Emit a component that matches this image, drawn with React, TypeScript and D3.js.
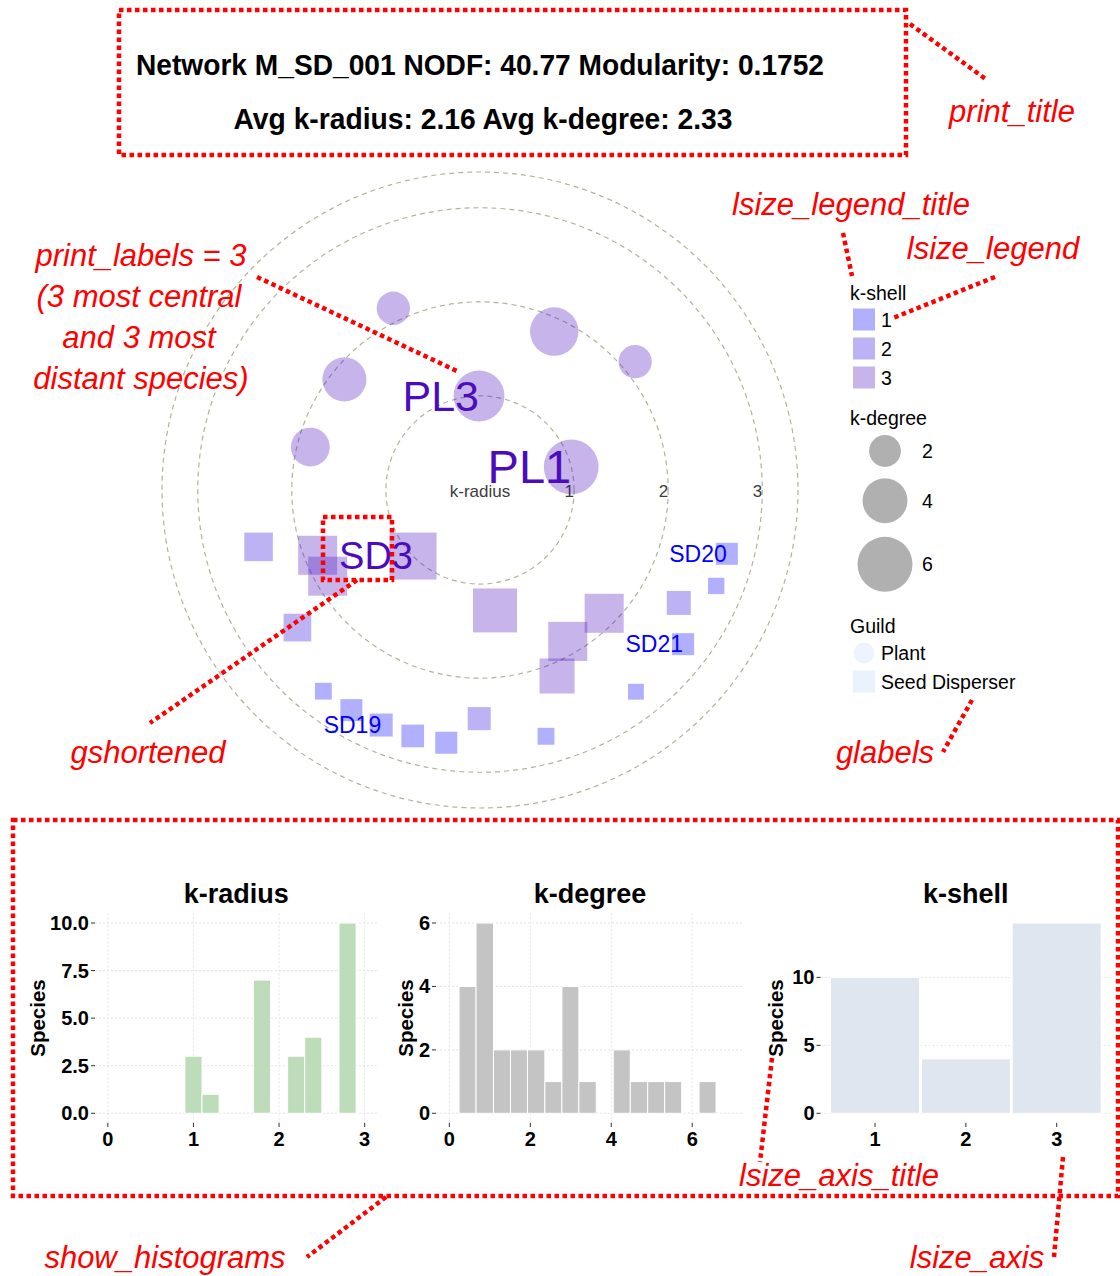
import React, { useRef, useEffect } from "react";
import * as d3 from "d3";

const titleLines = [
  "Network M_SD_001 NODF: 40.77 Modularity: 0.1752",
  "Avg k-radius: 2.16 Avg k-degree: 2.33",
];

// polar plot: k-radius = distance, angle in degrees (counter-clockwise from 3 o'clock)
const plants = [
  { label: "", kradius: 2.14, angle: 115.5, kdegree: 2.2, kshell: 3 },
  { label: "", kradius: 1.86, angle: 64.9, kdegree: 4.65, kshell: 3 },
  { label: "", kradius: 2.14, angle: 39.6, kdegree: 2.2, kshell: 3 },
  { label: "", kradius: 1.86, angle: 140.8, kdegree: 3.85, kshell: 3 },
  { label: "PL3", kradius: 1.0, angle: 90.6, kdegree: 5.15, kshell: 3 },
  { label: "", kradius: 1.86, angle: 165.8, kdegree: 3.0, kshell: 3 },
  { label: "PL1", kradius: 1.0, angle: 14.2, kdegree: 5.95, kshell: 3 },
];

const dispersers = [
  { label: "", kradius: 2.43, angle: 194.4, kdegree: 1.62, kshell: 2 },
  { label: "", kradius: 1.86, angle: 201.9, kdegree: 3.02, kshell: 3 },
  { label: "", kradius: 1.86, angle: 209.5, kdegree: 3.02, kshell: 3 },
  { label: "SD3", kradius: 1.0, angle: 224.6, kdegree: 4.38, kshell: 3 },
  { label: "", kradius: 2.43, angle: 217.0, kdegree: 1.52, kshell: 2 },
  { label: "", kradius: 1.29, angle: 277.1, kdegree: 3.84, kshell: 3 },
  { label: "", kradius: 1.86, angle: 300.1, kdegree: 3.02, kshell: 3 },
  { label: "", kradius: 1.86, angle: 315.2, kdegree: 3.02, kshell: 3 },
  { label: "", kradius: 2.14, angle: 292.5, kdegree: 2.43, kshell: 3 },
  { label: "", kradius: 2.43, angle: 330.4, kdegree: 1.14, kshell: 2 },
  { label: "", kradius: 2.71, angle: 337.9, kdegree: 0.53, kshell: 1 },
  { label: "SD20", kradius: 2.71, angle: 345.5, kdegree: 0.96, kshell: 1 },
  { label: "SD21", kradius: 2.71, angle: 322.8, kdegree: 0.96, kshell: 1 },
  { label: "", kradius: 2.71, angle: 307.7, kdegree: 0.5, kshell: 1 },
  { label: "", kradius: 2.71, angle: 232.1, kdegree: 0.56, kshell: 1 },
  { label: "", kradius: 2.71, angle: 239.7, kdegree: 0.96, kshell: 1 },
  { label: "SD19", kradius: 2.71, angle: 247.2, kdegree: 1.05, kshell: 1 },
  { label: "", kradius: 2.71, angle: 254.7, kdegree: 1.02, kshell: 1 },
  { label: "", kradius: 2.71, angle: 262.4, kdegree: 0.96, kshell: 1 },
  { label: "", kradius: 2.43, angle: 269.8, kdegree: 1.05, kshell: 2 },
  { label: "", kradius: 2.71, angle: 285.0, kdegree: 0.57, kshell: 1 },
];

const radialTicks = [1, 2, 3];
const outerRing = 3.38;

const kshellLevels = [1, 2, 3];
const kdegreeLegend = [2, 4, 6];
const guilds = ["Plant", "Seed Disperser"];

// histograms
const kradiusBinStarts = [0.9, 1.1, 1.7, 2.1, 2.3, 2.7];
const kradiusBinWidth = 0.2;
const kradiusCounts = [3, 1, 7, 3, 4, 10];
const kradiusXTicks = [0, 1, 2, 3];
const kradiusYTicks = [0, 2.5, 5, 7.5, 10];

const kdegreeEdges = [0.24, 0.66, 1.09, 1.51, 1.93, 2.36, 2.78, 3.2, 3.63, 4.05, 4.47, 4.9, 5.32, 5.74, 6.17, 6.59];
const kdegreeCounts = [4, 6, 2, 2, 2, 1, 4, 1, 0, 2, 1, 1, 1, 0, 1];
const kdegreeXTicks = [0, 2, 4, 6];
const kdegreeYTicks = [0, 2, 4, 6];

const kshellCats = [1, 2, 3];
const kshellCounts = [10, 4, 14];
const kshellYTicks = [0, 5, 10];

const labelSizes: Record<string, number> = { PL1: 47, PL3: 43, SD3: 38 };

const App: React.FC = () => {
  const ref = useRef<SVGSVGElement>(null);

  useEffect(() => {
    if (!ref.current) return;
    const svg = d3.select(ref.current);
    svg.selectAll("*").remove();

    const sans = "'Liberation Sans', Arial, Helvetica, sans-serif";
    const red = "#ff0000";

    svg.append("rect").attr("width", 1120).attr("height", 1276).attr("fill", "#fff");

    // ---- title
    const tg = svg
      .append("g")
      .attr("font-family", sans)
      .attr("font-weight", "bold")
      .attr("text-anchor", "middle")
      .attr("font-size", 29);
    tg.append("text")
      .attr("x", 480)
      .attr("y", 75)
      .attr("textLength", 688)
      .attr("lengthAdjust", "spacingAndGlyphs")
      .text(titleLines[0]);
    tg.append("text")
      .attr("x", 483)
      .attr("y", 129)
      .attr("textLength", 499)
      .attr("lengthAdjust", "spacingAndGlyphs")
      .text(titleLines[1]);

    // ---- polar network plot
    const cx = 480;
    const cy = 490;
    const rad = d3.scaleLinear().domain([0, outerRing]).range([0, 318]);
    const diam = d3.scaleSqrt().domain([0, 6]).range([0, 55]);
    const shellColor = d3
      .scaleOrdinal<number, string>()
      .domain(kshellLevels)
      .range(["#0000ff", "#2606dc", "#4b0cbe"]);
    const alpha = 0.31;
    const px = (d: { kradius: number; angle: number }) =>
      cx + rad(d.kradius) * Math.cos((d.angle * Math.PI) / 180);
    const py = (d: { kradius: number; angle: number }) =>
      cy - rad(d.kradius) * Math.sin((d.angle * Math.PI) / 180);

    const pg = svg.append("g");
    pg.selectAll("circle.ring")
      .data([...radialTicks, outerRing])
      .join("circle")
      .attr("class", "ring")
      .attr("cx", cx)
      .attr("cy", cy)
      .attr("r", (d) => rad(d))
      .attr("fill", "none")
      .attr("stroke", "#b3b39a")
      .attr("stroke-width", 1.2)
      .attr("stroke-dasharray", "5 4");

    pg.selectAll("text.rtick")
      .data(radialTicks)
      .join("text")
      .attr("class", "rtick")
      .attr("x", (d) => cx + rad(d))
      .attr("y", 497)
      .attr("text-anchor", "end")
      .attr("font-family", sans)
      .attr("font-size", 17)
      .attr("fill", "#3c3c3c")
      .text((d) => d);
    pg.append("text")
      .attr("x", cx)
      .attr("y", 497)
      .attr("text-anchor", "middle")
      .attr("font-family", sans)
      .attr("font-size", 17)
      .attr("fill", "#3c3c3c")
      .text("k-radius");

    pg.selectAll("circle.plant")
      .data(plants)
      .join("circle")
      .attr("class", "plant")
      .attr("cx", px)
      .attr("cy", py)
      .attr("r", (d) => diam(d.kdegree) / 2)
      .attr("fill", (d) => shellColor(d.kshell))
      .attr("fill-opacity", alpha);

    pg.selectAll("rect.disp")
      .data(dispersers)
      .join("rect")
      .attr("class", "disp")
      .attr("x", (d) => px(d) - diam(d.kdegree) / 2)
      .attr("y", (d) => py(d) - diam(d.kdegree) / 2)
      .attr("width", (d) => diam(d.kdegree))
      .attr("height", (d) => diam(d.kdegree))
      .attr("fill", (d) => shellColor(d.kshell))
      .attr("fill-opacity", alpha);

    pg.selectAll("text.lab")
      .data([...plants, ...dispersers].filter((d) => d.label))
      .join("text")
      .attr("class", "lab")
      .attr("x", px)
      .attr("y", py)
      .attr("text-anchor", "end")
      .attr("dominant-baseline", "central")
      .attr("font-family", sans)
      .attr("font-size", (d) => labelSizes[d.label] || 23)
      .attr("fill", (d) => shellColor(d.kshell))
      .text((d) => d.label);

    // ---- legend
    const lg = svg.append("g").attr("font-family", sans).attr("font-size", 19.5).attr("fill", "#000");
    lg.append("text").attr("x", 850).attr("y", 300).text("k-shell");
    kshellLevels.forEach((k, i) => {
      const yc = 319.5 + i * 29;
      lg.append("rect")
        .attr("x", 853)
        .attr("y", yc - 11)
        .attr("width", 22)
        .attr("height", 22)
        .attr("fill", shellColor(k))
        .attr("fill-opacity", alpha);
      lg.append("text").attr("x", 881).attr("y", yc).attr("dominant-baseline", "central").text(k);
    });
    lg.append("text").attr("x", 850).attr("y", 425).text("k-degree");
    const degY = [451, 500.7, 564.3];
    kdegreeLegend.forEach((k, i) => {
      lg.append("circle")
        .attr("cx", 885)
        .attr("cy", degY[i])
        .attr("r", diam(k) / 2)
        .attr("fill", "#000")
        .attr("fill-opacity", alpha);
      lg.append("text").attr("x", 922).attr("y", degY[i]).attr("dominant-baseline", "central").text(k);
    });
    lg.append("text").attr("x", 850).attr("y", 633).text("Guild");
    guilds.forEach((gname, i) => {
      const yc = 653 + i * 28.5;
      if (i === 0) {
        lg.append("circle").attr("cx", 864).attr("cy", yc).attr("r", 10.5).attr("fill", "#eef4ff");
      } else {
        lg.append("rect").attr("x", 853).attr("y", yc - 11).attr("width", 22).attr("height", 22).attr("fill", "#eaf2fd");
      }
      lg.append("text").attr("x", 881).attr("y", yc).attr("dominant-baseline", "central").text(gname);
    });

    // ---- histograms
    type Bar = { x0: number; x1: number; count: number };
    const histPanel = (o: {
      xDomain: [number, number];
      xRange: [number, number];
      yDomain: [number, number];
      xTicks: number[];
      yTicks: number[];
      yFmt: (v: number) => string;
      bars: Bar[];
      fill: string;
      title: string;
      speciesX: number;
      vGrid: boolean;
    }) => {
      const x = d3.scaleLinear().domain(o.xDomain).range(o.xRange);
      const y = d3.scaleLinear().domain(o.yDomain).range([1122.8, 913.5]);
      const g = svg.append("g").attr("font-family", sans);
      const [x0, x1] = o.xRange;
      if (o.vGrid) {
        g.selectAll("line.vg")
          .data(o.xTicks)
          .join("line")
          .attr("x1", (d) => x(d))
          .attr("x2", (d) => x(d))
          .attr("y1", 913.5)
          .attr("y2", 1122.8)
          .attr("stroke", "#e4e4e4")
          .attr("stroke-dasharray", "2 2");
      }
      g.selectAll("line.hg")
        .data(o.yTicks)
        .join("line")
        .attr("x1", x0)
        .attr("x2", x1)
        .attr("y1", (d) => y(d))
        .attr("y2", (d) => y(d))
        .attr("stroke", "#e4e4e4")
        .attr("stroke-dasharray", "2 2");
      g.selectAll("rect")
        .data(o.bars.filter((b) => b.count > 0))
        .join("rect")
        .attr("x", (d) => x(d.x0))
        .attr("width", (d) => x(d.x1) - x(d.x0))
        .attr("y", (d) => y(d.count))
        .attr("height", (d) => y(0) - y(d.count))
        .attr("fill", o.fill)
        .attr("stroke", "#fff")
        .attr("stroke-width", 1);
      // y axis
      g.selectAll("line.yt")
        .data(o.yTicks)
        .join("line")
        .attr("x1", x0 - 4)
        .attr("x2", x0)
        .attr("y1", (d) => y(d))
        .attr("y2", (d) => y(d))
        .attr("stroke", "#333");
      g.selectAll("text.yl")
        .data(o.yTicks)
        .join("text")
        .attr("x", x0 - 6)
        .attr("y", (d) => y(d))
        .attr("dominant-baseline", "central")
        .attr("text-anchor", "end")
        .attr("font-weight", "bold")
        .attr("font-size", 20)
        .text(o.yFmt);
      // x axis
      g.selectAll("line.xt")
        .data(o.xTicks)
        .join("line")
        .attr("x1", (d) => x(d))
        .attr("x2", (d) => x(d))
        .attr("y1", 1122.8)
        .attr("y2", 1127)
        .attr("stroke", "#333");
      g.selectAll("text.xl")
        .data(o.xTicks)
        .join("text")
        .attr("x", (d) => x(d))
        .attr("y", 1146)
        .attr("text-anchor", "middle")
        .attr("font-weight", "bold")
        .attr("font-size", 20)
        .text((d) => d);
      g.append("text")
        .attr("x", (x0 + x1) / 2)
        .attr("y", 903)
        .attr("text-anchor", "middle")
        .attr("font-weight", "bold")
        .attr("font-size", 27)
        .text(o.title);
      g.append("text")
        .attr("transform", `translate(${o.speciesX},1018) rotate(-90)`)
        .attr("text-anchor", "middle")
        .attr("dominant-baseline", "central")
        .attr("font-weight", "bold")
        .attr("font-size", 20.5)
        .text("Species");
    };

    histPanel({
      xDomain: [-0.15, 3.15],
      xRange: [95, 377.5],
      yDomain: [-0.5, 10.5],
      xTicks: kradiusXTicks,
      yTicks: kradiusYTicks,
      yFmt: (v) => d3.format(".1f")(v),
      bars: kradiusBinStarts.map((s, i) => ({ x0: s, x1: s + kradiusBinWidth, count: kradiusCounts[i] })),
      fill: "#bddcb9",
      title: "k-radius",
      speciesX: 37,
      vGrid: true,
    });
    histPanel({
      xDomain: [-0.33, 7.28],
      xRange: [436, 744],
      yDomain: [-0.3, 6.3],
      xTicks: kdegreeXTicks,
      yTicks: kdegreeYTicks,
      yFmt: (v) => String(v),
      bars: kdegreeCounts.map((c, i) => ({ x0: kdegreeEdges[i], x1: kdegreeEdges[i + 1], count: c })),
      fill: "#c4c4c4",
      title: "k-degree",
      speciesX: 405,
      vGrid: true,
    });
    histPanel({
      xDomain: [0.4, 3.6],
      xRange: [820.5, 1111.2],
      yDomain: [-0.7, 14.7],
      xTicks: kshellCats,
      yTicks: kshellYTicks,
      yFmt: (v) => String(v),
      bars: kshellCats.map((k, i) => ({ x0: k - 0.49, x1: k + 0.49, count: kshellCounts[i] })),
      fill: "#dfe6f0",
      title: "k-shell",
      speciesX: 775,
      vGrid: false,
    });

    // ---- red annotations
    const ag = svg.append("g");
    const dotted = (sel: d3.Selection<any, any, any, any>) =>
      sel
        .attr("fill", "none")
        .attr("stroke", red)
        .attr("stroke-width", 4.5)
        .attr("stroke-dasharray", "4.5 3.5");
    const rects = [
      [119, 10, 906, 155],
      [323, 517, 392, 580],
      [13, 820, 1118, 1196],
    ];
    rects.forEach(([a, b, c, d]) =>
      dotted(ag.append("rect").attr("x", a).attr("y", b).attr("width", c - a).attr("height", d - b))
    );
    const lines = [
      [910, 24, 987, 80],
      [843, 233, 852, 276],
      [995, 277, 893, 318],
      [257, 277, 459, 372],
      [357, 580, 150, 723],
      [972, 700, 943, 752],
      [772, 1058, 760, 1162],
      [386, 1197, 307, 1257],
      [1063, 1157, 1054, 1257],
    ];
    lines.forEach(([a, b, c, d]) =>
      dotted(ag.append("line").attr("x1", a).attr("y1", b).attr("x2", c).attr("y2", d))
    );
    const notes: [string, number, number][] = [
      ["print_title", 1012, 122],
      ["lsize_legend_title", 851, 215],
      ["lsize_legend", 993, 259],
      ["print_labels = 3", 141, 266],
      ["(3 most central", 139, 307],
      ["and 3 most", 139, 348],
      ["distant species)", 141, 389],
      ["gshortened", 148, 763],
      ["glabels", 885, 763],
      ["lsize_axis_title", 839, 1186],
      ["show_histograms", 165, 1268],
      ["lsize_axis", 977, 1268],
    ];
    ag.selectAll("text")
      .data(notes)
      .join("text")
      .attr("x", (d) => d[1])
      .attr("y", (d) => d[2])
      .attr("text-anchor", "middle")
      .attr("font-family", sans)
      .attr("font-style", "italic")
      .attr("font-size", 31)
      .attr("fill", red)
      .text((d) => d[0]);
  }, []);

  return (
    <svg
      ref={ref}
      width={1120}
      height={1276}
      style={{ position: "absolute", left: 0, top: 0 }}
    ></svg>
  );
};

export default App;
